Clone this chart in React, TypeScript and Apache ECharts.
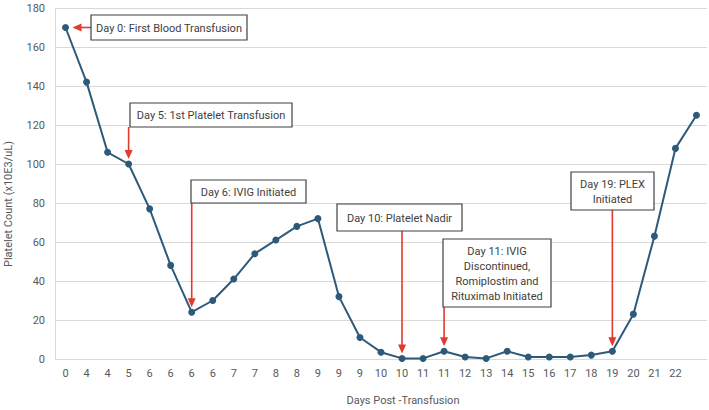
import React, { useEffect, useRef } from "react";
import * as echarts from "echarts";

// Day labels along the x axis (one per measurement; the last reading has no label)
const dayLabels = [
  "0", "4", "4", "5", "6", "6", "6", "6", "7", "7", "8", "8", "9", "9", "9",
  "10", "10", "11", "11", "12", "13", "14", "15", "16", "17", "18", "19",
  "20", "21", "22", "",
];

// Platelet count (x10E3/uL) per measurement
const plateletCounts = [
  170, 142, 106, 100, 77, 48, 24, 30, 41, 54, 61, 68, 72, 32, 11, 3.5, 0.3,
  0.3, 4, 1, 0.3, 4, 1, 1, 1, 2, 4, 23, 63, 108, 125,
];

const yMin = 0;
const yMax = 180;
const yInterval = 20;

// Clinical events: which measurement the arrow points at, the box text, and box placement
const eventIndex = [0, 3, 6, 16, 18, 26];
const eventText = [
  "Day 0: First Blood Transfusion",
  "Day 5: 1st Platelet Transfusion",
  "Day 6: IVIG Initiated",
  "Day 10: Platelet Nadir",
  "Day 11: IVIG\nDiscontinued,\nRomiplostim and\nRituximab Initiated",
  "Day 19: PLEX\nInitiated",
];
// [left, top, width, height] of each callout box, and the arrow direction
const eventBox: [number, number, number, number][] = [
  [91, 15, 156, 25],
  [130, 103, 162, 24],
  [191, 180, 115, 23],
  [337, 204, 125, 27],
  [443, 239, 108, 68],
  [571, 172, 83, 38],
];
const eventDir = ["left", "down", "down", "down", "down", "down"];

const FONT = "Roboto, 'Liberation Sans', Arial, sans-serif";
const LINE_COLOR = "#2e5a7a";
const ARROW_COLOR = "#e23a2c";

export default function App() {
  const ref = useRef<HTMLDivElement>(null);

  useEffect(() => {
    if (!ref.current) return;
    const chart = echarts.init(ref.current, undefined, { renderer: "svg" });

    chart.setOption({
      animation: false,
      backgroundColor: "#ffffff",
      grid: { left: 55, right: 2, top: 8, bottom: 51, containLabel: false },
      xAxis: {
        type: "category",
        data: dayLabels,
        boundaryGap: true,
        axisLine: { show: true, lineStyle: { color: "#d9d9d9", width: 1 } },
        axisTick: { show: false },
        axisLabel: {
          color: "#595959",
          fontSize: 11,
          fontFamily: FONT,
          margin: 9,
          interval: 0,
        },
        splitLine: { show: false },
      },
      yAxis: {
        type: "value",
        min: yMin,
        max: yMax,
        interval: yInterval,
        axisLine: { show: true, lineStyle: { color: "#d9d9d9", width: 1 } },
        axisTick: { show: false },
        axisLabel: {
          color: "#595959",
          fontSize: 11,
          fontFamily: FONT,
          margin: 10,
        },
        splitLine: { show: true, lineStyle: { color: "#d9d9d9", width: 1 } },
      },
      series: [
        {
          type: "line",
          data: plateletCounts,
          symbol: "circle",
          symbolSize: 7,
          lineStyle: { color: LINE_COLOR, width: 2 },
          itemStyle: { color: LINE_COLOR },
          z: 3,
        },
      ],
    });

    // Callouts and arrows, anchored to the measurements through the chart's scales
    const elements: any[] = [];
    eventIndex.forEach((idx, i) => {
      const [px, py] = chart.convertToPixel({ gridIndex: 0 }, [
        idx,
        plateletCounts[idx],
      ]) as number[];
      const [bx, by, bw, bh] = eventBox[i];

      if (eventDir[i] === "down") {
        const tipY = py - 5;
        elements.push({
          type: "line",
          shape: { x1: px, y1: by + bh, x2: px, y2: tipY - 8 },
          style: { stroke: ARROW_COLOR, lineWidth: 1.6 },
          z: 10,
        });
        elements.push({
          type: "polygon",
          shape: {
            points: [
              [px - 4, tipY - 9],
              [px + 4, tipY - 9],
              [px, tipY],
            ],
          },
          style: { fill: ARROW_COLOR },
          z: 10,
        });
      } else {
        const tipX = px + 7;
        elements.push({
          type: "line",
          shape: { x1: bx, y1: py, x2: tipX + 8, y2: py },
          style: { stroke: ARROW_COLOR, lineWidth: 1.6 },
          z: 10,
        });
        elements.push({
          type: "polygon",
          shape: {
            points: [
              [tipX + 9, py - 4],
              [tipX + 9, py + 4],
              [tipX, py],
            ],
          },
          style: { fill: ARROW_COLOR },
          z: 10,
        });
      }

      elements.push({
        type: "rect",
        shape: { x: bx, y: by, width: bw, height: bh },
        style: { fill: "#ffffff", stroke: "#404040", lineWidth: 1.2 },
        z: 11,
      });
      elements.push({
        type: "text",
        x: bx + bw / 2,
        y: by + bh / 2 + 0.5,
        style: {
          text: eventText[i],
          align: "center",
          verticalAlign: "middle",
          fill: "#404040",
          fontSize: 11,
          fontFamily: FONT,
          lineHeight: 15,
        },
        z: 12,
      });
    });

    // Axis titles
    elements.push({
      type: "text",
      x: 8,
      y: 204,
      rotation: Math.PI / 2,
      style: {
        text: "Platelet Count (x10E3/uL)",
        align: "center",
        verticalAlign: "middle",
        fill: "#595959",
        fontSize: 11,
        fontFamily: FONT,
      },
    });
    elements.push({
      type: "text",
      x: 403,
      y: 400,
      style: {
        text: "Days Post -Transfusion",
        align: "center",
        verticalAlign: "middle",
        fill: "#595959",
        fontSize: 11,
        fontFamily: FONT,
      },
    });

    chart.setOption({ graphic: { elements } });

    return () => chart.dispose();
  }, []);

  return (
    <div
      ref={ref}
      style={{ position: "fixed", left: 0, top: 0, width: 709, height: 410 }}
    />
  );
}
